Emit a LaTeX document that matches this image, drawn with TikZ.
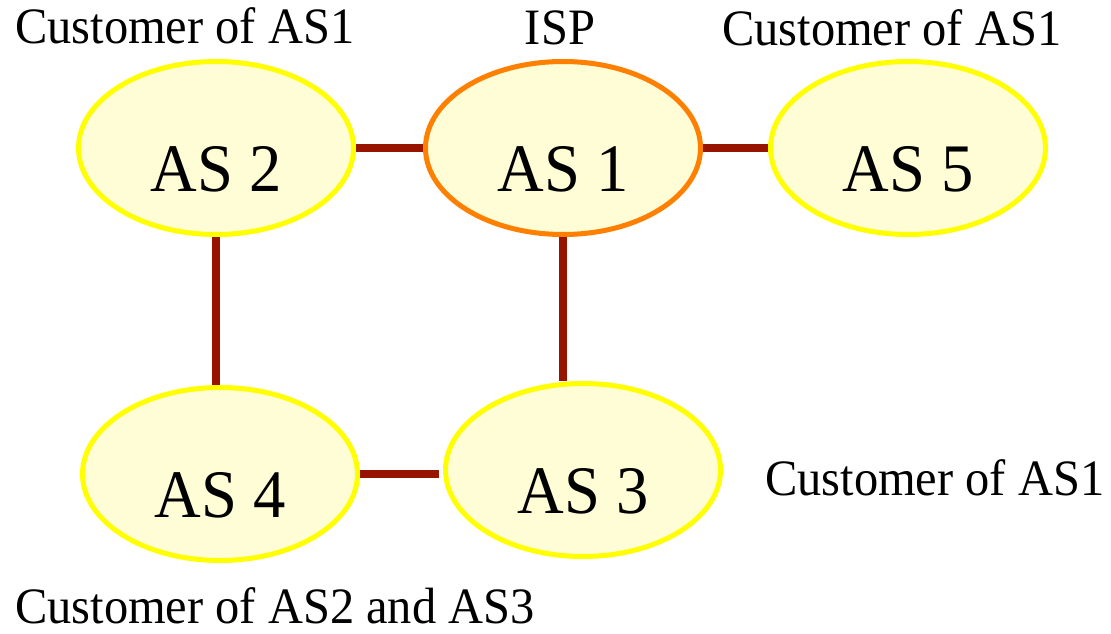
\documentclass[tikz,border=0pt]{standalone}
\usepackage{fontspec}
\setmainfont{Liberation Serif}[FakeStretch=0.95]
\usetikzlibrary{shapes.geometric,calc}
\definecolor{asfill}{HTML}{FFFDD5}
\definecolor{asyellow}{HTML}{FFFF00}
\definecolor{asorange}{HTML}{FF7F00}
\definecolor{linkred}{HTML}{961400}
\begin{document}
\begin{tikzpicture}[x=1pt,y=-1pt,
  asnode/.style={ellipse, draw=asyellow, fill=asfill, line width=5pt,
    minimum width=275pt, minimum height=173pt, inner sep=0pt,
    font=\fontsize{68}{72}\selectfont, text height=86pt, text depth=0pt},
  ispnode/.style={asnode, draw=asorange},
  link/.style={draw=linkred, line width=8pt},
  caption/.style={font=\fontsize{51}{56}\selectfont, inner sep=0pt, text depth=0pt}]
\useasboundingbox (0,0) rectangle (1111,634);
\fill[white] (0,0) rectangle (1111,634);

\node[asnode] (as2) at (216,148) {AS 2};
\node[ispnode] (as1) at (563,148) {AS 1};
\node[asnode] (as5) at (908,148) {AS 5};
\node[asnode] (as4) at (220,474) {AS 4};
\node[asnode] (as3) at (583,470) {AS 3};

\draw[link] (as2) -- (as1);
\draw[link] (as1) -- (as5);
\draw[link] (as2.south) -- (as2.south |- as4.north);
\draw[link] (as1.south) -- (as1.south |- as3.north);
\draw[link, shorten >=4pt] (as4.east) -- (as4.east -| as3.west);

\node[caption, anchor=base west] (c2) at (15,44) {Customer of AS1};
\node[caption, anchor=base] (cisp) at (560,45) {ISP};
\node[caption, anchor=base west] (c5) at (722,46) {Customer of AS1};
\node[caption, anchor=base west] (c3) at (765,495) {Customer of AS1};
\node[caption, anchor=base west] (c4) at (15,623) {Customer of AS2 and AS3};
\end{tikzpicture}
\end{document}
